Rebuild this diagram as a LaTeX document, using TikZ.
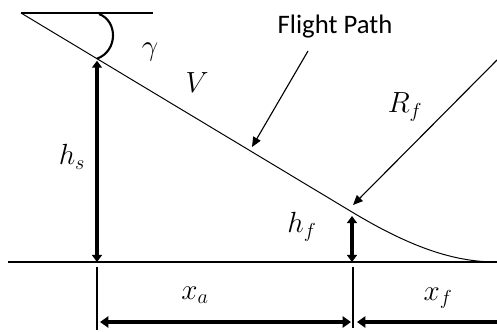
\documentclass[tikz,border=0pt]{standalone}
\usepackage{amsmath,amssymb}
\usepackage{fontspec}
\newfontfamily\labelfont{Carlito}
\usetikzlibrary{arrows.meta,calc}

\begin{document}
\begin{tikzpicture}[font=\fontsize{20}{24}\selectfont,
    thin line/.style={line width=0.7pt},
    ground line/.style={line width=1pt},
    thick arrow/.style={line width=2.8pt, {Triangle[length=5pt,width=7pt]}-{Triangle[length=5pt,width=7pt]}},
    dim arrow/.style={line width=2.8pt, -{Triangle[length=6pt,width=8pt]}},
    pointer/.style={line width=0.8pt, -{Triangle[length=7pt,width=6pt]}}]
    \useasboundingbox (0,0) rectangle (12.425,8.275);
    % ---- reference lines and flight path
    \coordinate (s)  at (0.525,7.95);
    \coordinate (t)  at (3.825,7.95);
    \coordinate (p)  at (8.8,2.975);
    \coordinate (e)  at (12.425,1.725);
    \coordinate (g1) at (0.2,1.725);
    \coordinate (q)  at ($(s)!0.2296!(p)$);
    \coordinate (qg) at (q |- e);
    \coordinate (pg) at (p |- e);
    \draw[ground line] (s) -- (t);
    \draw[ground line] (g1) -- (e);
    \draw[thin line] (s) -- (p) .. controls (10.45,1.98) and (11.5,1.725) .. (e);
    % ---- angle and heights
    \draw[line width=1.5pt] (2.475,7.925) .. controls (2.95,7.75) and (2.95,7.0) .. (q);
    \draw[thick arrow] ($(q)+(0,-0.05)$) -- (qg);
    \draw[thick arrow] ($(p)+(0,-0.1)$) -- (pg);
    \node (gamma) at (3.75,6.975) {$\gamma$};
    \node (vel)   at (4.925,6.2) {$V$};
    \node (hs)    at (1.8,4.35) {$h_s$};
    \node (hf)    at (7.55,2.6) {$h_f$};
    % ---- labels with pointers
    \node[font=\labelfont\fontsize{19}{22}\selectfont] (fp) at (8.375,7.6) {Flight Path};
    \coordinate (fp1) at (7.7,7.0);
    \coordinate (fp2) at (6.3,4.6);
    \draw[pointer] (fp1) -- (fp2);
    \coordinate (r1) at (12.425,6.775);
    \coordinate (r2) at (8.825,3.15);
    \draw[pointer] (r1) -- (r2);
    \node (rf) at (10.125,5.6) {$R_f$};
    % ---- distances
    \coordinate (ta1) at (2.425,1.6);
    \coordinate (ta2) at (2.425,0.025);
    \coordinate (tb1) at (8.825,1.6);
    \coordinate (tb2) at (8.825,0.075);
    \foreach \u/\v in {ta1/ta2,tb1/tb2}
      { \draw[line width=0.8pt] (\u) -- (\v); }
    \coordinate (xa1) at (2.5,0.225);
    \coordinate (xa2) at (8.775,0.225);
    \coordinate (xf1) at (12.425,0.225);
    \coordinate (xf2) at (8.925,0.225);
    \draw[line width=2.8pt, {Triangle[length=6pt,width=8pt]}-{Triangle[length=6pt,width=8pt]}] (xa1) -- (xa2);
    \draw[dim arrow] (xf1) -- (xf2);
    \node (xa) at (4.875,0.9) {$x_a$};
    \node (xf) at (10.95,0.825) {$x_f$};
  \end{tikzpicture}
\end{document}
